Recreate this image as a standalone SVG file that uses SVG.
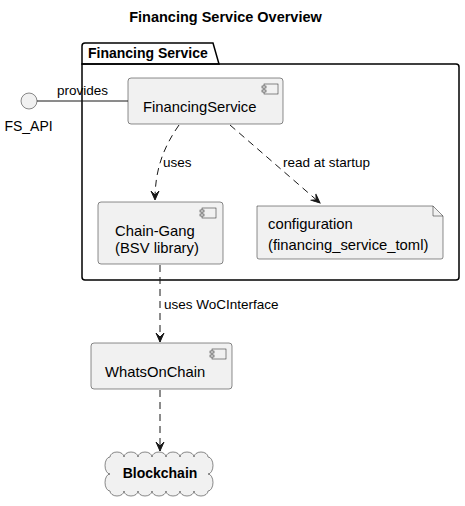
<svg xmlns="http://www.w3.org/2000/svg" width="465" height="506" viewBox="0 0 465 506">
<defs>
<style>
text{font-family:"Liberation Sans",Arial,sans-serif;fill:#000}
.t14{font-size:14.8px}
.t13{font-size:13.5px}
.tt{font-size:14.5px;font-weight:bold}
.b{font-weight:bold}
.box{fill:#F1F1F1;stroke:#181818;stroke-width:0.5}
.ico{fill:#F1F1F1;stroke:#181818;stroke-width:0.5}
.pkg{fill:none;stroke:#000;stroke-width:1.5}
.dash{fill:none;stroke:#181818;stroke-width:1;stroke-dasharray:7,5}
.solid{fill:none;stroke:#181818;stroke-width:1}
</style>
<marker id="arr" viewBox="-10 -5 11 10" refX="0" refY="0" markerWidth="11" markerHeight="10" markerUnits="userSpaceOnUse" orient="auto">
<path d="M0,0 L-9,-4 L-5,0 L-9,4 Z" fill="#181818" stroke="#181818" stroke-width="1" stroke-dasharray="none"/>
</marker>
</defs>
<rect width="465" height="506" fill="#FFFFFF"/>
<text class="tt" x="225.5" y="22" text-anchor="middle">Financing Service Overview</text>

<g id="pkg-financing-service">
<path class="pkg" d="M82,64 L82,46 Q82,43 85,43 L213,43 L219,64 Z"/>
<path class="pkg" d="M82,64 L456,64 Q459,64 459,67 L459,277 Q459,280 456,280 L85,280 Q82,280 82,277 Z"/>
<text x="88" y="58" style="font-size:14px;font-weight:bold">Financing Service</text>
</g>

<g id="connectors">
<line class="solid" x1="37" y1="101" x2="128" y2="101"/>
<path class="dash" d="M179,125 C163,148 155,170 155,200" marker-end="url(#arr)"/>
<line class="dash" x1="230" y1="125" x2="320" y2="203" marker-end="url(#arr)"/>
<line class="dash" x1="160" y1="265" x2="160" y2="342" marker-end="url(#arr)"/>
<line class="dash" x1="160" y1="390" x2="160" y2="451" marker-end="url(#arr)"/>
<text class="t13" x="57" y="95">provides</text>
<text class="t13" x="163" y="167">uses</text>
<text class="t13" x="283" y="167">read at startup</text>
<text class="t13" x="164" y="309">uses WoCInterface</text>
</g>

<g id="fs-api">
<circle cx="29" cy="101" r="8" fill="#F1F1F1" stroke="#181818" stroke-width="0.5"/>
<text x="28.5" y="131" text-anchor="middle" style="font-size:14px">FS_API</text>
</g>

<g id="financing-service">
<rect class="box" x="128" y="78" width="155" height="46" rx="3"/>
<rect class="ico" x="264" y="84" width="14" height="10"/>
<rect class="ico" x="262" y="86" width="4" height="2"/>
<rect class="ico" x="262" y="90" width="4" height="2"/>
<text class="t14" x="143" y="112">FinancingService</text>
</g>

<g id="chain-gang">
<rect class="box" x="98" y="202" width="125" height="62" rx="3"/>
<rect class="ico" x="202" y="208" width="14" height="10"/>
<rect class="ico" x="200" y="210" width="4" height="2"/>
<rect class="ico" x="200" y="214" width="4" height="2"/>
<text class="t14" x="115" y="236">Chain-Gang</text>
<text class="t14" x="115" y="253">(BSV library)</text>
</g>

<g id="configuration">
<path class="box" d="M257,206 L433,206 L443,216 L443,257 Q443,259 441,259 L259,259 Q257,259 257,257 Z"/>
<path fill="none" stroke="#181818" stroke-width="0.5" d="M433,206 L433,216 L443,216"/>
<text class="t14" x="268" y="229">configuration</text>
<text class="t14" x="268" y="250">(financing_service_toml)</text>
</g>

<g id="whatsonchain">
<rect class="box" x="91" y="343" width="141" height="46" rx="3"/>
<rect class="ico" x="212" y="349" width="14" height="10"/>
<rect class="ico" x="210" y="351" width="4" height="2"/>
<rect class="ico" x="210" y="355" width="4" height="2"/>
<text class="t14" x="105" y="377">WhatsOnChain</text>
</g>

<g id="blockchain">
<path class="box" d="M110,457 a7,5 0 0,1 14,0 a7,5 0 0,1 14,0 a7,5 0 0,1 14,0 a7,5 0 0,1 14,0 a7,5 0 0,1 14,0 a7,5 0 0,1 14,0 a7,5 0 0,1 14,0 a5,8.5 0 0,1 0,17 a5,8.5 0 0,1 0,17 a7,5 0 0,1 -14,0 a7,5 0 0,1 -14,0 a7,5 0 0,1 -14,0 a7,5 0 0,1 -14,0 a7,5 0 0,1 -14,0 a7,5 0 0,1 -14,0 a7,5 0 0,1 -14,0 a5,8.5 0 0,1 0,-17 a5,8.5 0 0,1 0,-17 Z"/>
<text class="b" x="160" y="478" text-anchor="middle" style="font-size:14px">Blockchain</text>
</g>
</svg>
